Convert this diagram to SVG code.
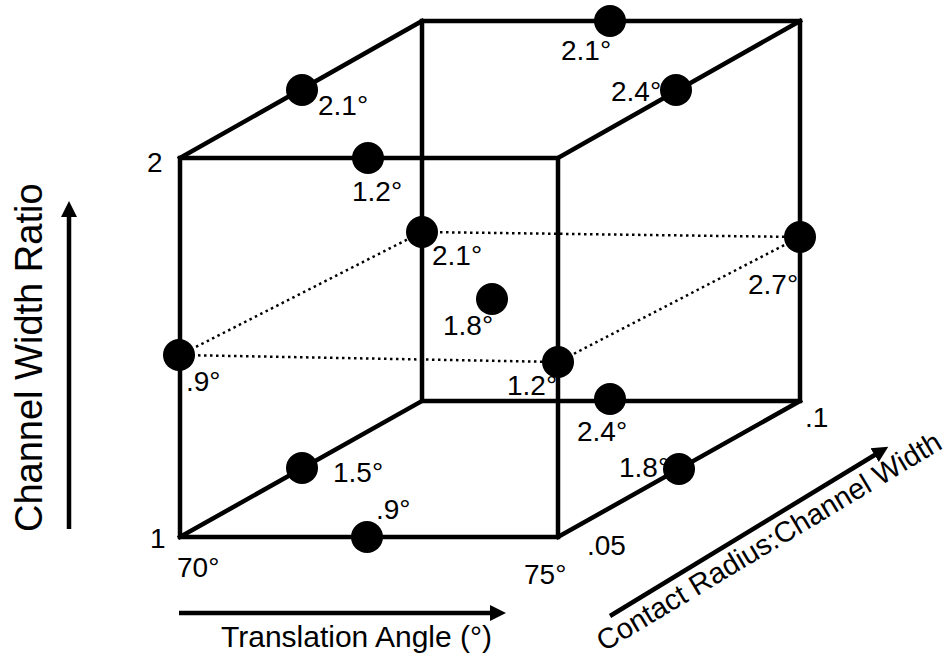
<svg xmlns="http://www.w3.org/2000/svg" width="949" height="659" viewBox="0 0 949 659">
<style>
.edge{stroke:#000;stroke-width:4.5;fill:none;stroke-linecap:square}
.dot{fill:#000}
.dash{stroke:#000;stroke-width:2.5;stroke-dasharray:2.5 3.5;fill:none}
text{font-family:"Liberation Sans",Arial,sans-serif;font-size:28px;fill:#000}
.ax{stroke:#000;stroke-width:4.5;fill:none}
</style>
<defs>
<marker id="ah" markerUnits="userSpaceOnUse" markerWidth="20" markerHeight="20" viewBox="0 0 20 20" refX="4" refY="10" orient="auto">
<path d="M0,2 L16,10 L0,18 Z" fill="#000"/>
</marker>
</defs>
<rect width="949" height="659" fill="#fff"/>
<g id="connectors">
<path class="edge" d="M180,158 L558,158 L558,537 L180,537 Z"/>
<path class="edge" d="M422,21 L800,21 L800,401 L422,401 Z"/>
<path class="edge" d="M180,158 L422,21 M558,158 L800,21 M558,537 L800,401 M180,537 L422,401"/>
<path class="dash" d="M180,355 L422,232 M180,355 L558,362 M422,232 L800,237 M558,362 L800,237"/>
</g>
<g id="axis-width">
<line class="ax" x1="69" y1="529" x2="69" y2="213" marker-end="url(#ah)"/>
<text transform="translate(42,532) rotate(-90)" style="font-size:38px">Channel Width Ratio</text>
</g>
<g id="axis-angle">
<line class="ax" x1="179" y1="613" x2="494" y2="613" marker-end="url(#ah)"/>
<text x="221" y="647" style="font-size:30px">Translation Angle (°)</text>
</g>
<g id="axis-radius">
<line class="ax" x1="610" y1="616" x2="878" y2="453" marker-end="url(#ah)"/>
<text transform="translate(604,652) rotate(-31)" style="font-size:29px">Contact Radius:Channel Width</text>
</g>
<g id="ticks">
<text x="147" y="172">2</text>
<text x="150" y="548">1</text>
<text x="177" y="577">70°</text>
<text x="524" y="584">75°</text>
<text x="587" y="555">.05</text>
<text x="805" y="427">.1</text>
</g>
<g id="p1"><circle class="dot" cx="302" cy="90" r="16"/><text x="318" y="115">2.1°</text></g>
<g id="p2"><circle class="dot" cx="368" cy="158" r="16"/><text x="352" y="201">1.2°</text></g>
<g id="p3"><circle class="dot" cx="610" cy="21" r="16"/><text x="561" y="60">2.1°</text></g>
<g id="p4"><circle class="dot" cx="676" cy="90" r="16"/><text x="611" y="101">2.4°</text></g>
<g id="p5"><circle class="dot" cx="422" cy="232" r="16"/><text x="432" y="265">2.1°</text></g>
<g id="p6"><circle class="dot" cx="800" cy="237" r="16"/><text x="748" y="294">2.7°</text></g>
<g id="p7"><circle class="dot" cx="492" cy="299" r="16"/><text x="443" y="335">1.8°</text></g>
<g id="p8"><circle class="dot" cx="179" cy="355" r="16"/><text x="186" y="391">.9°</text></g>
<g id="p9"><circle class="dot" cx="558" cy="362" r="16"/><text x="507" y="395">1.2°</text></g>
<g id="p10"><circle class="dot" cx="610" cy="399" r="16"/><text x="577" y="441">2.4°</text></g>
<g id="p11"><circle class="dot" cx="679" cy="469" r="16"/><text x="619" y="477">1.8°</text></g>
<g id="p12"><circle class="dot" cx="302" cy="468" r="16"/><text x="333" y="482">1.5°</text></g>
<g id="p13"><circle class="dot" cx="367" cy="537" r="16"/><text x="376" y="519">.9°</text></g>
</svg>
